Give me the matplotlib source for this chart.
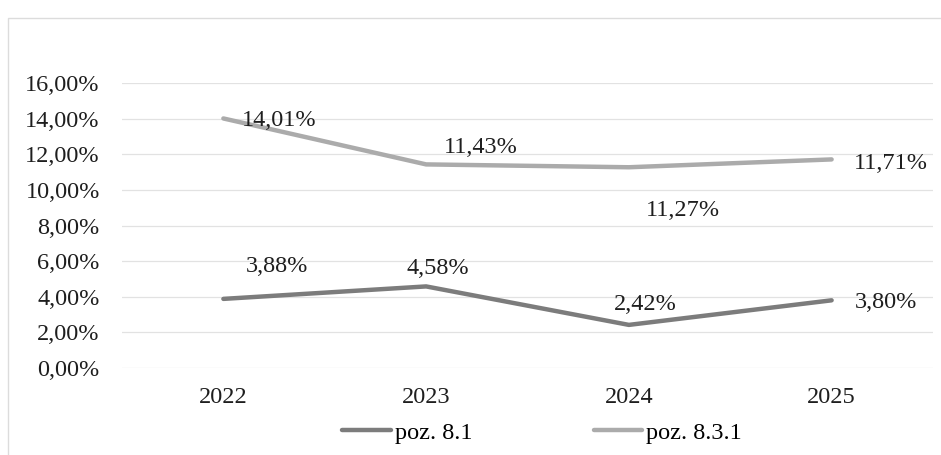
import matplotlib
matplotlib.use("Agg")
import matplotlib.pyplot as plt
from matplotlib.patches import Rectangle

plt.rcParams['font.family'] = ['Liberation Serif', 'DejaVu Serif']

years = ["2022", "2023", "2024", "2025"]
poz_81 = [3.88, 4.58, 2.42, 3.80]
poz_831 = [14.01, 11.43, 11.27, 11.71]
yticks = [0, 2, 4, 6, 8, 10, 12, 14, 16]

# label offsets in pixels (hand placed like in the original)
off_81 = [(54, 32), (12, 18), (16, 20), (54, -2)]
off_831 = [(56, -2), (55, 17), (54, -43), (59, -4)]

fs = 17.5

fig = plt.figure(figsize=(9.41, 4.55), dpi=100)
ax = fig.add_axes([122 / 941, 1 - 368 / 455, (933 - 122) / 941, (368 - 83) / 455])

# faint frame of the scanned chart area
fig.patches.append(Rectangle((8 / 941, -0.1), 1.2, 1 - 18 / 455 + 0.1, transform=fig.transFigure,
                             fill=False, edgecolor="#dcdcdc", linewidth=1.0))

x = list(range(len(years)))
ax.plot(x, poz_81, color="#7c7c7c", lw=3.2, solid_capstyle="round", label="poz. 8.1", zorder=3)
ax.plot(x, poz_831, color="#ababab", lw=3.2, solid_capstyle="round", label="poz. 8.3.1", zorder=3)

for xi, v, o in zip(x, poz_81, off_81):
    ax.annotate(f"{v:.2f}%".replace(".", ","), (xi, v), xytext=o, textcoords="offset pixels",
                ha="center", va="center", fontsize=fs, color="#1e1e1e")
for xi, v, o in zip(x, poz_831, off_831):
    ax.annotate(f"{v:.2f}%".replace(".", ","), (xi, v), xytext=o, textcoords="offset pixels",
                ha="center", va="center", fontsize=fs, color="#1e1e1e")

ax.set_xlim(-0.5, 3.5)
ax.set_ylim(0, 16)
ax.set_xticks(x)
ax.set_xticklabels(years)
ax.set_yticks(yticks)
ax.set_yticklabels([f"{t:.2f}%".replace(".", ",") for t in yticks])
ax.tick_params(axis="both", length=0, labelsize=fs, colors="#1e1e1e")
ax.tick_params(axis="y", pad=16)
ax.tick_params(axis="x", pad=14)
ax.grid(axis="y", color="#e2e2e2", linewidth=0.9)
ax.set_axisbelow(True)
for s in ax.spines.values():
    s.set_visible(False)

fig.legend(loc="center", bbox_to_anchor=(542 / 941, 1 - 433 / 455), ncol=2, frameon=False,
           fontsize=fs, handlelength=2.0, handletextpad=0.15, columnspacing=5.0)

fig.savefig("out.png", dpi=100)
